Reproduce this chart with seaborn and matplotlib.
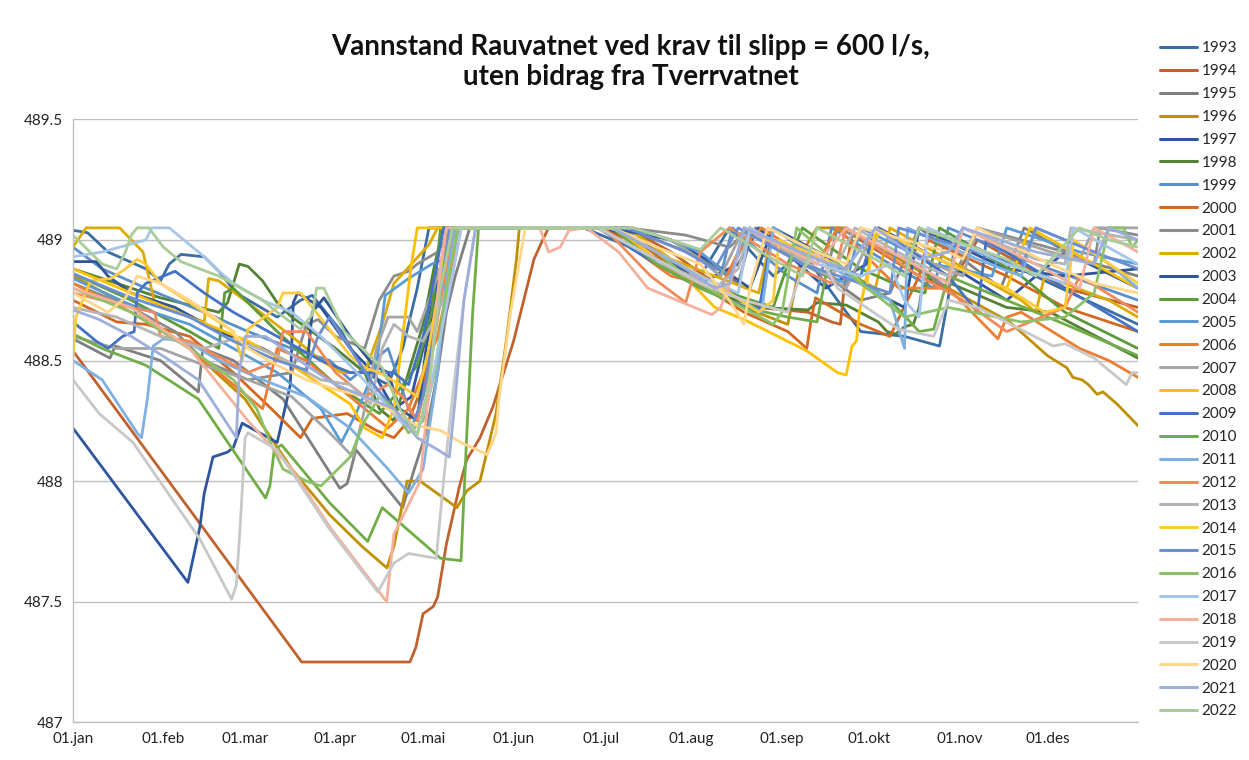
import matplotlib
matplotlib.use('Agg')
import numpy as np
import pandas as pd
import matplotlib.pyplot as plt
import matplotlib.ticker as mticker
from matplotlib.lines import Line2D
import seaborn as sns

# Day of year (0 = 01.jan) and water level (moh)
years = ['1993', '1994', '1995', '1996', '1997', '1998', '1999', '2000', '2001', '2002',
         '2003', '2004', '2005', '2006', '2007', '2008', '2009', '2010', '2011', '2012',
         '2013', '2014', '2015', '2016', '2017', '2018', '2019', '2020', '2021', '2022']
colors = ['#3A6EA5', '#C0622E', '#7F7F7F', '#BF9000', '#2F55A0', '#548235', '#5B8FC7', '#D2691E',
          '#8C8C8C', '#DDAA00', '#2F5597', '#5B9B3A', '#5B9BD5', '#ED7D31', '#A5A5A5', '#FFC000',
          '#4472C4', '#70AD47', '#7EB0E0', '#F08A5A', '#B4B4B4', '#FFCA3A', '#6A8ED0', '#8CC168',
          '#A6C6E8', '#F4B09A', '#C8C8C8', '#FFD68A', '#9EAEDB', '#A9CC98']
month_days = [0, 31, 59, 90, 120, 151, 181, 212, 243, 273, 304, 334]
month_labels = ['01.jan', '01.feb', '01.mar', '01.apr', '01.mai', '01.jun',
                '01.jul', '01.aug', '01.sep', '01.okt', '01.nov', '01.des']

d1993 = [0, 5, 12, 25, 30, 33, 37, 45, 50, 56, 70, 78, 82, 92, 100, 108, 113, 118, 122, 175, 195, 215, 225, 240, 250, 262, 270, 285, 297, 300, 302, 304, 335, 365]
v1993 = [489.04, 489.03, 488.95, 488.88, 488.83, 488.90, 488.94, 488.93, 488.87, 488.78, 488.68, 488.75, 488.77, 488.62, 488.45, 488.40, 488.55, 488.80, 489.05, 489.05, 488.95, 488.85, 489.05, 488.85, 488.95, 488.75, 488.62, 488.60, 488.56, 488.76, 488.97, 489.0, 488.82, 488.65]

d1994 = [0, 78.4, 115.5, 117.5, 120, 123.5, 125, 128, 132.5, 135, 139.5, 144, 151, 158, 161, 163, 190, 205, 220, 235, 252, 260, 263, 265, 267, 290, 300, 310, 340, 365]
v1994 = [488.54, 487.25, 487.25, 487.31, 487.45, 487.48, 487.52, 487.74, 487.98, 488.09, 488.18, 488.31, 488.58, 488.92, 489.0, 489.05, 489.05, 488.95, 488.82, 488.72, 488.70, 488.66, 488.65, 488.88, 489.02, 488.85, 488.80, 489.0, 488.80, 488.72]

d1995 = [0, 12.7, 14.5, 30, 43, 44.5, 55, 72, 91.5, 94, 97, 113, 117, 121, 125, 128, 131, 136, 185, 200, 215, 228, 232, 234, 255, 270, 280, 290, 305, 318, 326, 345, 365]
v1995 = [488.59, 488.51, 488.56, 488.50, 488.37, 488.55, 488.50, 488.34, 487.97, 487.99, 488.13, 487.89, 488.05, 488.20, 488.45, 488.70, 488.85, 489.05, 489.05, 489.0, 488.93, 488.82, 489.0, 489.05, 488.88, 488.75, 488.78, 489.05, 488.92, 488.80, 489.05, 488.92, 488.85]

d1996 = [0, 20, 40, 59, 75, 88, 99, 107.6, 110, 114.5, 119, 131.6, 135, 139.5, 145, 148.5, 152, 153, 185, 200, 215, 230, 245, 250, 255, 265, 300, 321, 334, 340.6, 342.7, 345.8, 348, 351, 353, 357.8, 365]
v1996 = [488.85, 488.72, 488.55, 488.34, 488.05, 487.86, 487.73, 487.64, 487.73, 488.0, 488.0, 487.89, 487.96, 488.0, 488.28, 488.58, 488.92, 489.05, 489.05, 488.95, 488.82, 488.72, 488.65, 488.95, 489.05, 489.05, 488.80, 488.66, 488.52, 488.47, 488.43, 488.42, 488.40, 488.36, 488.37, 488.32, 488.23]

d1997 = [0, 39.4, 43.5, 45, 48, 53, 55, 58, 70, 74.5, 75.5, 77, 85, 95, 103, 110, 116, 120, 125, 130, 180, 195, 215, 228, 235, 258, 272, 276, 300, 320, 340, 365]
v1997 = [488.22, 487.58, 487.81, 487.95, 488.10, 488.12, 488.14, 488.24, 488.16, 488.40, 488.74, 488.78, 488.72, 488.55, 488.45, 488.30, 488.35, 488.55, 488.85, 489.05, 489.05, 489.0, 488.82, 488.90, 489.05, 488.80, 488.90, 489.05, 488.90, 488.75, 488.95, 488.80]

d1998 = [0, 30, 50, 53, 57, 60, 65, 70, 75, 90, 100, 105, 110, 115, 120, 124, 127, 180, 200, 220, 235, 252, 255, 265, 276, 279, 282, 285, 288, 290, 291, 295, 320, 335, 365]
v1998 = [488.88, 488.76, 488.70, 488.74, 488.90, 488.89, 488.83, 488.74, 488.68, 488.55, 488.45, 488.30, 488.25, 488.45, 488.65, 488.90, 489.05, 489.05, 488.90, 488.78, 488.72, 488.71, 488.74, 488.73, 488.66, 488.62, 488.61, 488.64, 488.65, 488.72, 488.80, 488.85, 488.72, 488.70, 488.51]

d1999 = [0, 10, 25, 45, 60, 75, 88, 95, 100, 108, 115, 118, 122, 126, 130, 190, 205, 215, 222, 226, 245, 255, 260, 280, 295, 300, 330, 365]
v1999 = [488.97, 488.88, 488.80, 488.70, 488.62, 488.55, 488.50, 488.42, 488.47, 488.55, 488.30, 488.25, 488.50, 488.80, 489.05, 489.05, 489.0, 488.92, 488.85, 489.05, 488.85, 488.78, 489.05, 488.90, 488.80, 489.05, 488.90, 488.75]

d2000 = [0, 15, 25, 40, 55, 68, 78, 82, 94, 104, 110, 115, 120, 125, 130, 133, 180, 195, 210, 230, 245, 251.5, 253, 254.5, 270, 280, 290, 293, 320, 340, 365]
v2000 = [488.75, 488.66, 488.65, 488.60, 488.45, 488.30, 488.18, 488.26, 488.28, 488.21, 488.18, 488.25, 488.40, 488.70, 489.0, 489.05, 489.05, 488.98, 488.85, 488.70, 488.62, 488.55, 488.67, 488.76, 488.65, 488.60, 488.85, 489.0, 488.85, 488.72, 488.62]

d2001 = [0, 20, 35, 45, 60, 75, 80, 84, 90, 100, 105, 110, 115, 118, 125, 130, 190, 210, 225, 232, 250, 258, 262, 285, 300, 310, 340, 350, 352, 365]
v2001 = [488.82, 488.72, 488.62, 488.50, 488.42, 488.45, 488.65, 488.67, 488.60, 488.55, 488.75, 488.85, 488.87, 488.90, 488.95, 489.05, 489.05, 489.02, 488.97, 489.05, 488.90, 488.85, 489.05, 488.92, 488.80, 489.05, 488.95, 488.90, 489.05, 489.02]

d2002 = [0, 4.5, 16, 24, 28, 40, 45, 46.5, 50, 61, 75, 85, 92, 100, 106, 110, 116, 122, 125, 190, 205, 220, 235, 240, 260, 275, 280, 300, 325, 330, 333, 355, 365]
v2002 = [488.97, 489.05, 489.05, 488.95, 488.74, 488.68, 488.66, 488.84, 488.83, 488.73, 488.60, 488.50, 488.45, 488.45, 488.65, 488.82, 488.90, 488.98, 489.05, 489.05, 488.92, 488.85, 488.78, 489.05, 488.90, 488.80, 489.05, 488.92, 488.75, 488.70, 488.85, 488.75, 488.68]

d2003 = [0, 8, 12, 20, 35, 50, 65, 80, 82, 86, 95, 103, 108, 112, 118, 121, 125, 128, 185, 205, 220, 232, 240, 260, 272, 285, 290, 320, 340, 365]
v2003 = [488.91, 488.91, 488.85, 488.78, 488.72, 488.62, 488.55, 488.45, 488.70, 488.76, 488.60, 488.48, 488.45, 488.30, 488.25, 488.55, 488.80, 489.05, 489.05, 489.0, 488.90, 488.80, 489.05, 488.92, 488.80, 488.72, 489.05, 488.88, 488.85, 488.88]

d2004 = [0, 20, 40, 50, 52, 55, 70, 90, 105, 110, 118, 123, 126, 180, 200, 220, 240, 245, 250, 270, 285, 292, 297, 325, 340, 365]
v2004 = [488.86, 488.75, 488.62, 488.55, 488.78, 488.80, 488.62, 488.40, 488.28, 488.35, 488.48, 488.70, 489.05, 489.05, 488.92, 488.80, 488.72, 488.90, 489.05, 488.88, 488.80, 488.78, 489.05, 488.85, 488.70, 488.55]

d2005 = [0, 20, 40, 55, 70, 85, 92, 97, 104, 107, 115, 123, 131, 133, 188, 200, 215, 225, 232, 250, 265, 270, 295, 315, 320, 345, 365]
v2005 = [488.84, 488.73, 488.65, 488.55, 488.45, 488.30, 488.16, 488.28, 488.48, 488.77, 488.84, 488.90, 488.94, 489.05, 489.05, 489.02, 488.95, 488.85, 489.05, 488.90, 488.82, 489.05, 488.90, 488.85, 489.05, 488.95, 488.90]

d2006 = [0, 20, 40, 55, 65, 70, 80, 95, 108, 115, 125, 130, 133, 180, 190, 205, 222, 228, 236, 255, 262, 283, 300, 317, 320, 325, 345, 355, 365]
v2006 = [488.82, 488.70, 488.55, 488.40, 488.30, 488.55, 488.50, 488.35, 488.22, 488.30, 488.60, 488.90, 489.05, 489.05, 488.98, 488.85, 488.80, 488.95, 489.05, 488.90, 489.05, 488.80, 488.80, 488.59, 488.68, 488.70, 488.55, 488.50, 488.43]

d2007 = [0, 15, 30, 45, 60, 75, 88, 96, 100, 104, 108, 115, 118, 122, 128, 131, 192, 205, 215, 222, 230, 255, 265, 275, 295, 305, 310, 335, 345, 350, 365]
v2007 = [488.60, 488.55, 488.55, 488.48, 488.42, 488.35, 488.20, 488.10, 488.30, 488.55, 488.68, 488.68, 488.62, 488.75, 488.95, 489.05, 489.05, 489.0, 488.92, 488.85, 489.05, 488.88, 488.80, 489.05, 488.90, 488.85, 489.05, 488.95, 488.92, 489.05, 489.05]

d2008 = [0, 20, 40, 60, 75, 85, 95, 100, 106, 110, 113, 116, 118, 185, 200, 212, 220, 230, 251.5, 262, 265, 267, 268.5, 269.5, 272, 274, 276.5, 300, 320, 328, 350, 365]
v2008 = [488.88, 488.78, 488.68, 488.58, 488.48, 488.40, 488.32, 488.22, 488.18, 488.30, 488.60, 488.90, 489.05, 489.05, 488.92, 488.82, 488.72, 488.67, 488.54, 488.45, 488.44, 488.56, 488.58, 488.70, 488.85, 488.97, 489.04, 488.90, 488.80, 489.05, 488.90, 488.80]

d2009 = [0, 8, 12, 17, 21, 22, 25, 35, 45, 55, 70, 85, 95, 110, 115, 120, 124, 127, 180, 200, 215, 235, 240, 255, 270, 275, 300, 310, 313, 340, 365]
v2009 = [488.66, 488.58, 488.55, 488.60, 488.62, 488.78, 488.82, 488.87, 488.78, 488.70, 488.60, 488.50, 488.45, 488.45, 488.40, 488.60, 488.85, 489.05, 489.05, 488.90, 488.80, 488.70, 489.05, 488.92, 488.85, 489.05, 488.85, 488.70, 489.0, 488.80, 488.62]

d2010 = [0, 10, 25, 43, 66, 67.5, 69, 71.5, 88, 101, 106, 126, 133, 135, 137, 139, 185, 200, 215, 230, 245, 255, 258, 262, 280, 290, 295, 300, 320, 340, 365]
v2010 = [488.61, 488.55, 488.48, 488.34, 487.93, 487.98, 488.13, 488.15, 487.91, 487.75, 487.89, 487.68, 487.67, 488.20, 488.70, 489.05, 489.05, 488.90, 488.80, 488.72, 488.68, 488.66, 488.85, 488.90, 488.75, 488.62, 488.63, 488.85, 488.75, 488.65, 488.52]

d2011 = [0, 10, 22, 23.5, 25.5, 27.5, 31, 39, 50, 65, 80, 95, 108, 115, 120, 125, 128, 131, 180, 195, 210, 225, 236, 240, 265, 280, 285, 286, 310, 325, 330, 350, 365]
v2011 = [488.50, 488.42, 488.20, 488.18, 488.34, 488.56, 488.59, 488.58, 488.50, 488.42, 488.35, 488.22, 488.05, 487.95, 488.05, 488.45, 488.85, 489.05, 489.05, 488.95, 488.85, 488.78, 488.70, 489.05, 488.85, 488.75, 488.55, 489.05, 488.92, 488.85, 489.05, 488.95, 488.80]

d2012 = [0, 20, 28, 30, 40, 60, 70, 72, 80, 90, 100, 108, 113, 118, 122, 126, 130, 182, 198, 210, 215, 225, 245, 260, 265, 290, 305, 320, 340, 345, 365]
v2012 = [488.78, 488.72, 488.70, 488.60, 488.58, 488.45, 488.50, 488.62, 488.62, 488.45, 488.35, 488.40, 488.35, 488.25, 488.45, 488.75, 489.05, 489.05, 488.85, 488.74, 488.95, 489.05, 488.90, 488.82, 489.05, 488.85, 488.75, 488.62, 488.72, 488.85, 488.70]

d2013 = [0, 15, 30, 45, 55, 70, 85, 95, 102, 106, 110, 115, 120, 125, 130, 133, 180, 200, 220, 228, 232, 255, 260, 268, 290, 300, 305, 330, 340, 342, 365]
v2013 = [488.72, 488.68, 488.60, 488.55, 488.59, 488.52, 488.42, 488.40, 488.32, 488.55, 488.65, 488.60, 488.58, 488.70, 488.85, 489.05, 489.05, 488.92, 488.80, 488.88, 489.05, 488.88, 488.85, 489.05, 488.90, 488.85, 489.05, 488.92, 488.90, 489.05, 489.0]

d2014 = [0, 1, 6, 13, 18, 22, 25, 30, 45, 55, 58, 60, 70, 72, 78, 82, 95, 100, 105, 112, 118, 122, 126, 129, 185, 200, 220, 235, 240, 242, 265, 272, 275, 300, 320, 333, 340, 343, 365]
v2014 = [488.51, 488.68, 488.83, 488.84, 488.88, 488.92, 488.90, 488.82, 488.70, 488.62, 488.50, 488.63, 488.72, 488.78, 488.78, 488.72, 488.52, 488.47, 488.45, 488.40, 488.35, 488.55, 488.85, 489.05, 489.05, 488.95, 488.82, 488.70, 488.75, 489.0, 488.88, 488.80, 489.05, 488.90, 488.80, 488.70, 488.72, 489.0, 488.82]

d2015 = [0, 20, 40, 55, 70, 80, 84, 88, 95, 103, 110, 116, 120, 125, 129, 190, 200, 210, 220, 228, 250, 270, 280, 283, 310, 325, 330, 350, 365]
v2015 = [488.86, 488.76, 488.68, 488.58, 488.50, 488.46, 488.60, 488.68, 488.55, 488.40, 488.30, 488.22, 488.35, 488.70, 489.05, 489.05, 489.0, 488.95, 488.88, 489.05, 488.90, 488.82, 488.78, 489.05, 488.95, 488.88, 489.05, 488.95, 488.88]

d2016 = [0, 20, 40, 55, 63, 68, 72, 80, 85, 95, 100, 105, 110, 115, 120, 124, 128, 132, 185, 200, 210, 225, 240, 243, 248, 270, 285, 300, 325, 340, 350, 355, 360, 363, 365]
v2016 = [488.80, 488.70, 488.55, 488.42, 488.30, 488.15, 488.05, 488.00, 487.98, 488.10, 488.25, 488.35, 488.30, 488.20, 488.25, 488.45, 488.80, 489.05, 489.05, 488.95, 488.85, 488.75, 488.65, 488.70, 489.05, 488.82, 488.68, 488.72, 488.66, 488.68, 488.78, 489.05, 489.05, 488.97, 489.0]

d2017 = [0, 10, 25, 27, 33, 38, 45, 50, 55, 65, 75, 85, 95, 105, 112, 118, 122, 126, 130, 133, 185, 200, 215, 228, 232, 255, 270, 280, 285, 290, 293, 320, 340, 343, 365]
v2017 = [488.93, 488.95, 489.0, 489.05, 489.05, 489.0, 488.93, 488.87, 488.82, 488.75, 488.70, 488.60, 488.48, 488.35, 488.25, 488.20, 488.35, 488.60, 488.85, 489.05, 489.05, 488.95, 488.85, 488.78, 489.05, 488.90, 488.85, 488.90, 488.75, 488.68, 489.05, 488.90, 488.82, 489.05, 488.90]

d2018 = [0, 20, 40, 60, 75, 88, 100, 107.5, 110, 119, 123, 126, 128, 160, 163, 167, 170, 176, 187, 197, 219, 222, 226, 230, 255, 265, 285, 300, 305, 330, 345, 350, 365]
v2018 = [488.80, 488.72, 488.55, 488.25, 488.05, 487.81, 487.62, 487.50, 487.78, 488.0, 488.5, 488.9, 489.05, 489.05, 488.95, 488.97, 489.04, 489.05, 488.95, 488.80, 488.69, 488.72, 488.85, 489.05, 488.90, 489.05, 488.92, 488.82, 489.05, 488.90, 488.80, 489.05, 488.95]

d2019 = [0, 9, 20.6, 32, 43.5, 54.4, 56, 57.5, 59, 60, 70, 88, 104.5, 110, 115, 124.5, 127, 130, 134, 138, 180, 200, 215, 230, 245, 250, 255, 262, 283, 295, 300, 310, 336, 340, 350, 361, 363, 365]
v2019 = [488.42, 488.28, 488.16, 487.96, 487.76, 487.51, 487.57, 487.85, 488.18, 488.20, 488.13, 487.80, 487.54, 487.66, 487.70, 487.68, 488.0, 488.34, 488.75, 489.05, 489.05, 488.92, 488.82, 488.75, 488.70, 488.88, 488.95, 488.80, 488.63, 488.60, 488.75, 488.72, 488.56, 488.57, 488.51, 488.40, 488.45, 488.45]

d2020 = [0, 12, 18, 22, 30, 40, 52, 60, 70, 80, 90, 100, 108, 118, 126, 133, 142, 145, 146, 150, 155, 185, 200, 215, 225, 230, 232, 238, 255, 265, 270, 300, 305, 310, 335, 350, 365]
v2020 = [488.78, 488.70, 488.76, 488.85, 488.82, 488.75, 488.65, 488.55, 488.48, 488.42, 488.38, 488.35, 488.30, 488.23, 488.21, 488.16, 488.11, 488.20, 488.34, 488.70, 489.05, 489.05, 488.97, 488.90, 488.75, 488.65, 488.80, 489.05, 488.95, 488.90, 489.05, 488.95, 488.92, 489.05, 488.90, 488.82, 488.78]

d2021 = [0, 9, 20, 32, 43, 56, 57, 59, 66, 72, 80, 90, 100, 110, 118, 125, 129, 131, 134, 138, 185, 200, 210, 220, 225, 230, 255, 265, 275, 290, 300, 305, 330, 350, 355, 365]
v2021 = [488.71, 488.67, 488.60, 488.51, 488.42, 488.18, 488.45, 488.60, 488.60, 488.55, 488.48, 488.40, 488.35, 488.30, 488.18, 488.13, 488.10, 488.34, 488.75, 489.05, 489.05, 488.95, 488.88, 488.80, 488.82, 489.05, 488.92, 488.88, 489.05, 488.92, 488.95, 489.05, 488.95, 488.90, 489.05, 489.0]

d2022 = [0, 10, 15, 18, 20, 22, 26, 31, 37, 50, 65, 70, 78, 82, 83.5, 86, 93, 106, 112, 118, 122, 126, 130, 192, 205, 215, 222, 240, 250, 255, 275, 285, 290, 320, 330, 345, 355, 365]
v2022 = [489.02, 488.90, 488.88, 488.95, 489.02, 489.05, 489.05, 488.97, 488.91, 488.85, 488.75, 488.70, 488.63, 488.69, 488.80, 488.80, 488.62, 488.47, 488.30, 488.19, 488.40, 488.80, 489.05, 489.05, 489.0, 488.96, 489.05, 488.92, 488.85, 489.05, 488.92, 488.85, 489.05, 488.92, 488.85, 489.05, 489.0, 488.97]

all_days = [d1993, d1994, d1995, d1996, d1997, d1998, d1999, d2000, d2001, d2002,
            d2003, d2004, d2005, d2006, d2007, d2008, d2009, d2010, d2011, d2012,
            d2013, d2014, d2015, d2016, d2017, d2018, d2019, d2020, d2021, d2022]
all_vals = [v1993, v1994, v1995, v1996, v1997, v1998, v1999, v2000, v2001, v2002,
            v2003, v2004, v2005, v2006, v2007, v2008, v2009, v2010, v2011, v2012,
            v2013, v2014, v2015, v2016, v2017, v2018, v2019, v2020, v2021, v2022]

frames = []
for yr, dd, vv in zip(years, all_days, all_vals):
    frames.append(pd.DataFrame({'dag': dd, 'niva': vv, 'aar': yr}))
df = pd.concat(frames, ignore_index=True)

sns.set_theme(style='white')
plt.rcParams['font.family'] = ['Lato', 'DejaVu Sans']

fig = plt.figure(figsize=(12.49, 7.6), dpi=100)
ax = fig.add_axes([0.0584, 0.0496, 0.8527, 0.7934])

palette = dict(zip(years, colors))
sns.lineplot(data=df, x='dag', y='niva', hue='aar', hue_order=years, palette=palette,
             estimator=None, sort=True, linewidth=2.0, legend=False, ax=ax)
for line in ax.lines:
    line.set_solid_joinstyle('round')

ax.set_xlim(0, 365)
ax.set_ylim(487, 489.5)
ax.set_yticks(np.arange(487, 489.51, 0.5))
ax.yaxis.set_major_formatter(mticker.FormatStrFormatter('%g'))
ax.set_xticks(month_days + [365])
ax.set_xticklabels(month_labels + [''])
ax.set_xlabel('')
ax.set_ylabel('')
ax.grid(axis='y', color='#BFBFBF', linewidth=1.0)
ax.grid(axis='x', visible=False)
ax.set_axisbelow(True)
for s in ['top', 'right']:
    ax.spines[s].set_visible(False)
for s in ['left', 'bottom']:
    ax.spines[s].set_color('#BFBFBF')
    ax.spines[s].set_linewidth(1.0)
ax.tick_params(axis='both', direction='out', length=4, width=1, color='#BFBFBF',
               labelsize=11, labelcolor='#222222', pad=3)

fig.text(0.505, 1 - 62 / 760, 'Vannstand Rauvatnet ved krav til slipp = 600 l/s,\nuten bidrag fra Tverrvatnet',
         ha='center', va='center', fontsize=20, fontweight='bold', linespacing=1.2, color='#111111')

handles = [Line2D([0], [0], color=c, linewidth=2.2) for c in colors]
fig.legend(handles, years, loc='upper left', bbox_to_anchor=(0.929, 0.9454), frameon=False,
           fontsize=11, handlelength=2.4, handletextpad=0.3, labelspacing=0.58,
           borderpad=0, borderaxespad=0)

fig.savefig('out.png', dpi=100)
